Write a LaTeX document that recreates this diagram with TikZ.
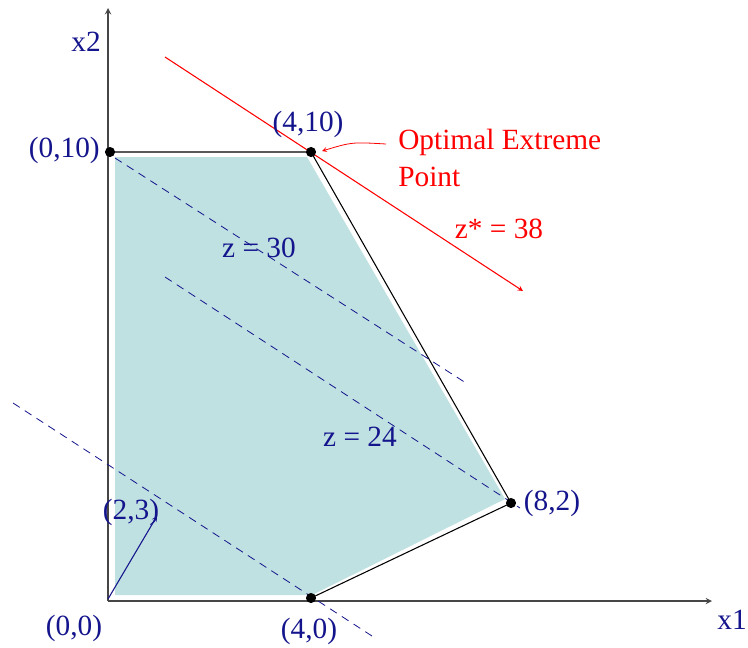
\documentclass[tikz,border=0pt]{standalone}
\usepackage{fontspec}
\setmainfont{Liberation Serif}
\usepackage{tikz}
\definecolor{lpnavy}{RGB}{20,20,140}
\definecolor{lpteal}{RGB}{191,225,225}
\definecolor{lpaxis}{RGB}{70,70,70}
\tikzset{
  lab/.style={text=lpnavy, font=\fontsize{22}{24}\selectfont, inner sep=0pt},
  redlab/.style={text=red, font=\fontsize{22}{24}\selectfont, inner sep=0pt, anchor=west},
  level/.style={lpnavy, dash pattern=on 6pt off 4.5pt, line width=0.6pt},
  vertex/.style={black},
}
\begin{document}
\begin{tikzpicture}[x=0.75pt, y=-0.75pt, >=stealth]
        \useasboundingbox (0,0) rectangle (748,647);
        % the corners of the region
        \coordinate (O)  at (108,599);
        \coordinate (A)  at (110,152);
        \coordinate (B)  at (311,152);
        \coordinate (C)  at (511,503);
        \coordinate (D)  at (311,598);
        % the region, filled a little inside its edges
        \fill[lpteal] (115,157) -- (307,157) -- (505,499) -- (312,595) -- (115,595) -- cycle;
        % the axes
        \draw[->, lpaxis, line width=1.1pt] (108,601) -- (108,8);
        \draw[->, lpaxis, line width=1.1pt] (108,601) -- (712,601);
        \node[lab] (x2) at (86,42) {x2};
        \node[lab] (x1) at (732,620) {x1};
        % the edges
        \draw[black, line width=0.8pt] (A) -- (B) -- (C) -- (D);
        % the levels of z
        \draw[level] (13,403) -- (372,636);
        \draw[level] (165,277) -- (520,508);
        \draw[level] (115,158) -- (466,383);
        \node[lab] (z30) at (259,248) {z = 30};
        \node[lab] (z24) at (360,437) {z = 24};
        % the gradient (2,3)
        \draw[->, lpnavy, line width=0.8pt] (O) -- (157,516);
        \node[lab] (c) at (131,512) {(2,3)};
        % the best level
        \draw[->, red, line width=0.8pt] (165,57) -- (523,291);
        \node[redlab] (opt) at (398,142) {Optimal Extreme};
        \node[redlab] (pt) at (398,177) {Point};
        \node[text=red, font=\fontsize{22}{24}\selectfont, inner sep=0pt] (zs) at (499,229) {z* = 38};
        \coordinate (tail) at (386,144);
        \draw[->, red, line width=0.6pt] (tail) .. controls (352,142) .. (322,151);
        % the corner points
        \foreach \p in {A,B,C,D}
            \fill[vertex] (\p) circle (3.8pt);
        \node[lab, anchor=east] (lA) at (100,150) {(0,10)};
        \node[lab] (lB) at (308,124) {(4,10)};
        \node[lab] (lC) at (552,503) {(8,2)};
        \node[lab] (lD) at (309,631) {(4,0)};
        \node[lab] (lO) at (74,628) {(0,0)};
\end{tikzpicture}
\end{document}
